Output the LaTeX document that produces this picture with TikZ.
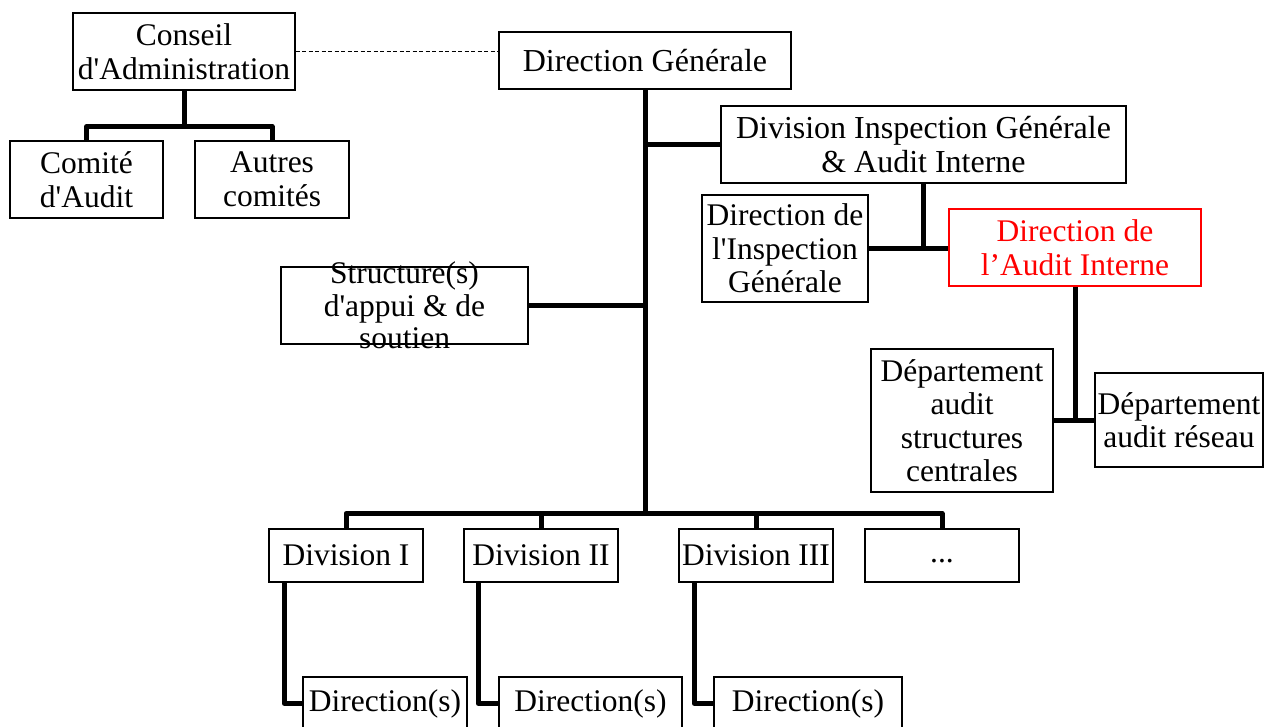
\documentclass[tikz,border=0pt]{standalone}
\usepackage{fontspec}
\setmainfont{Liberation Serif}[Ligatures=TeXOff]
\begin{document}
\begin{tikzpicture}[x=1pt,y=-1pt,
  box/.style={draw=black, line width=1.2pt, rectangle, inner sep=1pt, align=center,
    font=\fontsize{31.5}{33.5}\selectfont},
  big/.style={font=\fontsize{32}{34}\selectfont},
  txt/.style={inner sep=0pt, align=center, font=\fontsize{31.5}{32.5}\selectfont},
  conn/.style={line width=5pt, line join=round},
  link/.style={line width=1.2pt, dashed, dash pattern=on 4pt off 2.5pt}]
\useasboundingbox (0,0) rectangle (1264,726);

% board and its committees
\node[box, minimum width=222, minimum height=77] (ca) at (184,51.5) {Conseil\\d'Administration};
\node[box, minimum width=153, minimum height=77] (cmt) at (86.5,179.5) {Comité\\d'Audit};
\node[box, minimum width=154, minimum height=77] (aut) at (272,179.5) {Autres\\comités};

% general management
\node[box, big, minimum width=292, minimum height=57] (dg) at (645,60.5) {Direction Générale};
\node[box, big, minimum width=405, minimum height=77] (dis) at (923.5,144.5) {Division Inspection Générale\\\& Audit Interne};
\node[box, minimum width=166, minimum height=107] (dig) at (785,248.5) {Direction de\\l'Inspection\\Générale};
\node[box, draw=red, text=red, minimum width=252, minimum height=77] (dai) at (1075,247.5) {Direction de\\l’Audit Interne};
\node[box, minimum width=247, minimum height=77] (sa) at (404.5,305.5) {};
\node[txt] (salabel) at (sa) {Structure(s)\\d'appui \& de\\soutien};
\node[box, minimum width=182, minimum height=143] (dsc) at (962,420.5) {Département\\audit\\structures\\centrales};
\node[box, minimum width=168, minimum height=94] (dre) at (1179,420) {Département\\audit réseau};

% operational divisions
\node[box, minimum width=154, minimum height=53] (d1) at (346,555.5) {Division I};
\node[box, minimum width=154, minimum height=53] (d2) at (541,555.5) {Division II};
\node[box, minimum width=154, minimum height=53] (d3) at (756,555.5) {Division III};
\node[box, minimum width=154, minimum height=53] (d4) at (942,555.5) {\vphantom{Dg}...};
\node[box, minimum width=164, minimum height=53] (r1) at (385,703.5) {Direction(s)};
\node[box, minimum width=183, minimum height=53] (r2) at (590.5,703.5) {Direction(s)};
\node[box, minimum width=188, minimum height=53] (r3) at (808,703.5) {Direction(s)};

% connectors
\draw[link] (ca.east) -- (ca.east -| dg.west);
\draw[conn] (ca.south) -- ++(0,36) coordinate (cabar);
\draw[conn] (cmt.north) |- (cabar) -| (aut.north);

\draw[conn] (dg.south) -- ++(0,424) coordinate (trunk);
\draw[conn] (d1.north) |- (trunk) -| (d4.north);
\draw[conn] (d2.north) -- (d2.north |- trunk);
\draw[conn] (d3.north) -- (d3.north |- trunk);
\draw[conn] (dis.west) -- (dis.west -| dg.south);
\draw[conn] (sa.east) -- (sa.east -| dg.south);

\draw[conn] (dis.south) -- (dis.south |- dai.west);
\draw[conn] (dig.east) -- (dig.east -| dai.west);
\draw[conn] (dai.south) -- (dai.south |- dsc.east);
\draw[conn] (dsc.east) -- (dsc.east -| dre.west);

\draw[conn] ([xshift=16pt]d1.south west) |- (r1.west);
\draw[conn] ([xshift=15pt]d2.south west) |- (r2.west);
\draw[conn] ([xshift=16pt]d3.south west) |- (r3.west);
\end{tikzpicture}
\end{document}
